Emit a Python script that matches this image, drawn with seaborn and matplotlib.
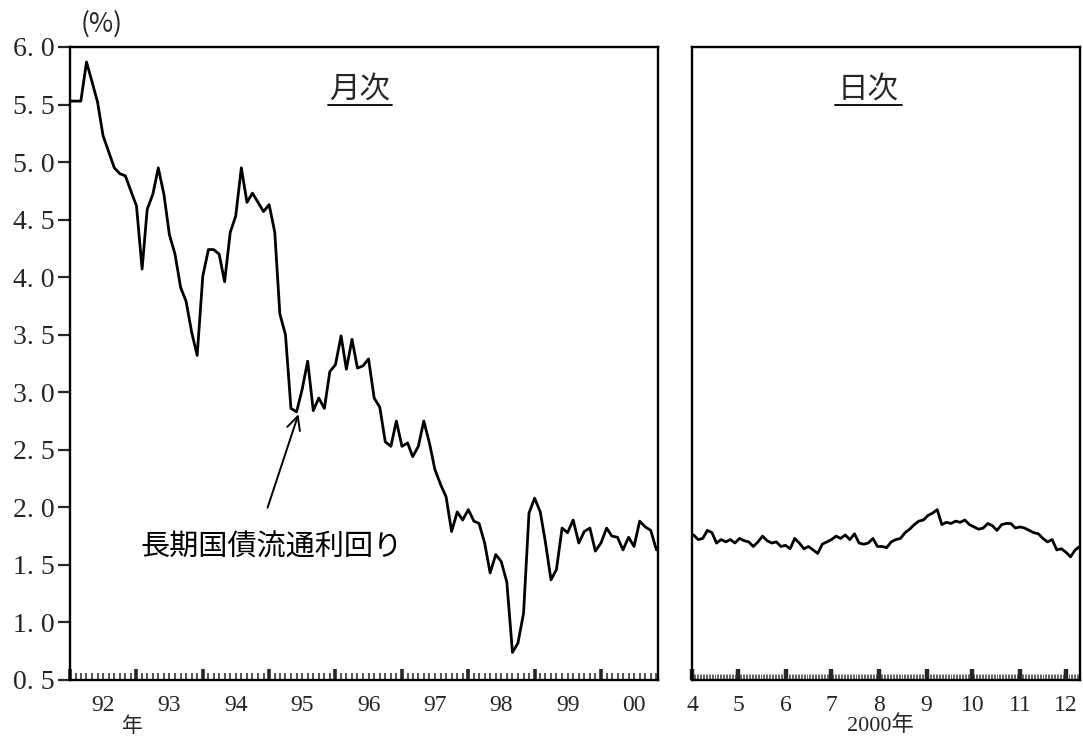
import pandas as pd
import matplotlib
matplotlib.use('Agg')
import matplotlib.pyplot as plt
import matplotlib.dates as mdates
import seaborn as sns

# monthly long-term JGB yield, Jan 1992 - Nov 2000 (%)
monthly_yield = [
    5.53, 5.53, 5.53, 5.87, 5.70, 5.52, 5.23, 5.09, 4.95, 4.90, 4.88, 4.75,
    4.62, 4.07, 4.59, 4.72, 4.95, 4.72, 4.37, 4.20, 3.91, 3.79, 3.52, 3.32,
    4.01, 4.24, 4.24, 4.20, 3.96, 4.39, 4.53, 4.95, 4.65, 4.73, 4.65, 4.57,
    4.63, 4.39, 3.68, 3.50, 2.86, 2.83, 3.02, 3.27, 2.84, 2.95, 2.86, 3.18,
    3.24, 3.49, 3.20, 3.46, 3.21, 3.23, 3.29, 2.95, 2.87, 2.57, 2.53, 2.75,
    2.53, 2.56, 2.44, 2.53, 2.75, 2.56, 2.33, 2.20, 2.09, 1.79, 1.96, 1.89,
    1.98, 1.88, 1.86, 1.69, 1.43, 1.59, 1.53, 1.35, 0.74, 0.82, 1.08, 1.95,
    2.08, 1.96, 1.70, 1.37, 1.46, 1.82, 1.78, 1.89, 1.69, 1.79, 1.82, 1.62,
    1.69, 1.82, 1.75, 1.74, 1.63, 1.74, 1.66, 1.88, 1.83, 1.80, 1.63,
]

# daily yield, Apr - Dec 2000 (%)
daily_yield = [
    1.76, 1.72, 1.73, 1.80, 1.78, 1.69, 1.72, 1.70, 1.72, 1.69, 1.73, 1.71,
    1.70, 1.66, 1.70, 1.75, 1.71, 1.69, 1.70, 1.66, 1.67, 1.64, 1.73, 1.69,
    1.64, 1.66, 1.63, 1.60, 1.68, 1.70, 1.72, 1.75, 1.73, 1.76, 1.72, 1.77,
    1.69, 1.68, 1.69, 1.73, 1.66, 1.66, 1.65, 1.70, 1.72, 1.73, 1.78, 1.81,
    1.85, 1.88, 1.89, 1.93, 1.95, 1.98, 1.85, 1.87, 1.86, 1.88, 1.87, 1.89,
    1.85, 1.83, 1.81, 1.82, 1.86, 1.84, 1.80, 1.85, 1.86, 1.86, 1.82, 1.83,
    1.82, 1.80, 1.78, 1.77, 1.73, 1.70, 1.72, 1.63, 1.64, 1.61, 1.57, 1.63,
    1.66,
]

years = list(range(1992, 2001))
year_labels = ['92', '93', '94', '95', '96', '97', '98', '99', '00']
month_labels = ['4', '5', '6', '7', '8', '9', '10', '11', '12']
y_ticks = [0.5, 1.0, 1.5, 2.0, 2.5, 3.0, 3.5, 4.0, 4.5, 5.0, 5.5, 6.0]

monthly = pd.DataFrame({
    'date': pd.date_range('1992-01-01', periods=len(monthly_yield), freq='MS'),
    'yield': monthly_yield,
})
daily = pd.DataFrame({
    'date': pd.date_range('2000-04-02', '2000-12-10', periods=len(daily_yield)),
    'yield': daily_yield,
})

sns.set_style('ticks')
plt.rcParams['font.family'] = ['Noto Sans CJK JP', 'DejaVu Sans']
num_font = 'Liberation Serif'

fig = plt.figure(figsize=(10.83, 7.40), dpi=100)
ax1 = fig.add_axes([0.0646, 0.0811, 0.543, 0.8554])
ax2 = fig.add_axes([0.639, 0.0811, 0.358, 0.8554])

sns.lineplot(data=monthly, x='date', y='yield', ax=ax1, color='black', linewidth=2.0)
sns.lineplot(data=daily, x='date', y='yield', ax=ax2, color='black', linewidth=2.0)

for ax in (ax1, ax2):
    ax.set_ylim(0.5, 6.0)
    ax.set_xlabel('')
    ax.set_ylabel('')
    for sp in ax.spines.values():
        sp.set_visible(True)
        sp.set_linewidth(1.7)
        sp.set_color('black')

# left panel: y axis
ax1.set_yticks(y_ticks)
ax1.set_yticklabels([f'{v:.1f}'.replace('.', '. ') for v in y_ticks],
                    fontfamily=num_font, fontsize=20)
ax1.tick_params(axis='y', direction='out', length=9, width=1.6, pad=2)

# left panel: x axis (month ticks, thick ticks at year start, labels mid-year)
ax1.set_xlim(pd.Timestamp('1992-01-01'), pd.Timestamp('2000-11-10'))
ax1.xaxis.set_major_locator(mdates.YearLocator())
ax1.xaxis.set_minor_locator(mdates.MonthLocator())
ax1.xaxis.set_major_formatter(plt.NullFormatter())
ax1.tick_params(axis='x', which='major', direction='in', length=8, width=2.6)
ax1.tick_params(axis='x', which='minor', direction='in', length=5, width=1.1)

mid_years = [mdates.date2num(pd.Timestamp(f'{y}-07-01')) for y in years]
sec = ax1.secondary_xaxis('bottom')
sec.set_xticks(mid_years)
sec.set_xticklabels(year_labels, fontfamily=num_font, fontsize=17)
sec.tick_params(length=0, pad=11)
sec.spines['bottom'].set_visible(False)

ax1.text(0.107, -0.072, '年', transform=ax1.transAxes, ha='center', va='center', fontsize=15)

# right panel
ax2.set_xlim(pd.Timestamp('2000-04-01'), pd.Timestamp('2000-12-10'))
month_starts = pd.date_range('2000-04-01', '2000-12-01', freq='MS')
ax2.set_xticks(month_starts)
ax2.set_xticklabels(month_labels, fontfamily=num_font, fontsize=17)
ax2.xaxis.set_minor_locator(mdates.DayLocator())
ax2.tick_params(axis='x', which='major', direction='in', length=8, width=3.2, pad=11)
ax2.tick_params(axis='x', which='minor', direction='in', length=4, width=0.5)
ax2.set_yticks([])
ax2.text(0.485, -0.072, '2000年', transform=ax2.transAxes, ha='center', va='center',
         fontsize=16, family=[num_font, 'Noto Sans CJK JP'])

# titles with underline
ax1.text(0.493, 0.933, '月次', transform=ax1.transAxes, ha='center', va='center', fontsize=22)
ax1.plot([0.439, 0.548], [0.908, 0.908], transform=ax1.transAxes, color='black', lw=1.3)
ax2.text(0.454, 0.933, '日次', transform=ax2.transAxes, ha='center', va='center', fontsize=22)
ax2.plot([0.369, 0.541], [0.908, 0.908], transform=ax2.transAxes, color='black', lw=1.3)

# series annotation
ax1.annotate('', xy=(0.39, 0.424), xytext=(0.3345, 0.268),
             xycoords='axes fraction', textcoords='axes fraction',
             arrowprops=dict(arrowstyle='->', color='black', lw=1.4, mutation_scale=24))
ax1.text(0.3435, 0.2085, '長期国債流通利回り', transform=ax1.transAxes,
         ha='center', va='center', fontsize=21, color='black')

fig.text(0.094, 0.968, '(%)', ha='center', va='center', fontsize=19)

fig.savefig('out.png', dpi=100, facecolor='white')
